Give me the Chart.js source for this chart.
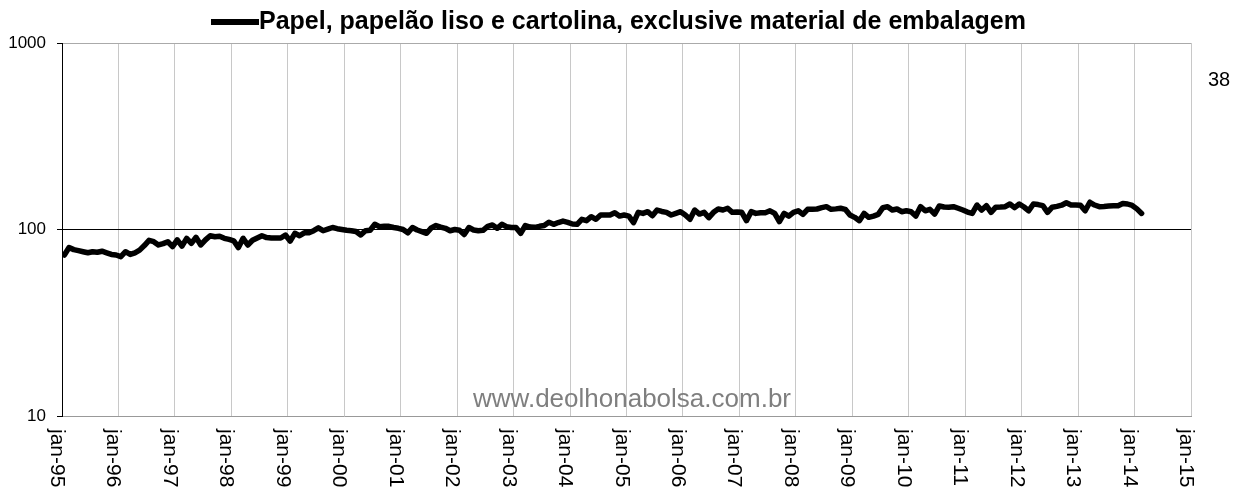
<!DOCTYPE html>
<html><head><meta charset="utf-8">
<script src="https://cdn.jsdelivr.net/npm/chart.js@4.4.1/dist/chart.umd.min.js"></script>
<style>html,body{margin:0;padding:0;background:#fff;}#wrap{width:1236px;height:495px;}</style>
</head><body><div id="wrap"><canvas id="c" width="1236" height="495"></canvas></div>
<script>
const seriesName = 'Papel, papelão liso e cartolina, exclusive material de embalagem';
const sideNote = '38';
const watermark = 'www.deolhonabolsa.com.br';
const yTicks = [10, 100, 1000];
const xTickLabels = ['jan-95','jan-96','jan-97','jan-98','jan-99','jan-00','jan-01','jan-02','jan-03','jan-04',
  'jan-05','jan-06','jan-07','jan-08','jan-09','jan-10','jan-11','jan-12','jan-13','jan-14','jan-15'];
// monthly values, jan-95 .. feb-14
const v1995 = [73, 80, 78, 77, 76, 75, 76, 75.5, 76.5, 75, 73.5, 73];
const v1996 = [71.5, 76, 73.5, 75, 77.5, 82, 87.5, 86, 82.6, 84, 86, 81];
const v1997 = [88, 81.5, 89.7, 84.3, 90.8, 82.6, 88, 92.6, 91.5, 92, 89.7, 88.5];
const v1998 = [87, 80, 89.7, 82.6, 87.5, 90, 92.6, 90.5, 90, 90, 90, 93.4];
const v1999 = [86.7, 95.4, 92.6, 96, 96, 98.5, 102, 98.5, 100.5, 102.5, 101, 100];
const v2000 = [99, 98.5, 97.5, 93.4, 98.5, 99, 106.6, 103.5, 104, 104, 102.5, 101.5];
const v2001 = [100, 96, 102.5, 99.4, 97.5, 95.4, 102, 105, 103, 101.5, 98.5, 100];
const v2002 = [99, 94, 102.5, 99.4, 98.5, 99, 104, 105.7, 101.5, 106.6, 103.5, 102.5];
const v2003 = [102.5, 95.4, 105, 103, 102.7, 104, 105, 109.3, 106.6, 109, 111, 109.3];
const v2004 = [107, 106.6, 113.4, 111.5, 117.1, 113.4, 119.6, 119.6, 119.6, 123, 118, 119.6];
const v2005 = [118, 108.8, 123.6, 122, 124.6, 118.5, 127.2, 125, 123.6, 119.6, 122, 124.6];
const v2006 = [119.6, 113.4, 127.2, 121, 123.6, 115.7, 123.6, 128.8, 127.2, 130, 123.6, 124];
const v2007 = [123.6, 111.5, 124.6, 122, 123, 123, 126, 122, 110.2, 122, 118, 123.6];
const v2008 = [126, 120.6, 128.3, 128.5, 128.8, 131, 132.6, 128.3, 129, 130, 128.3, 119.6];
const v2009 = [116.2, 111.5, 122, 116.2, 118, 120.6, 130.9, 132.6, 127.2, 128.8, 124.6, 126];
const v2010 = [124.6, 118, 132.6, 126, 128.3, 121, 133.7, 132, 131.7, 132.6, 130, 127.2];
const v2011 = [124, 122, 135.3, 127.2, 134.2, 123.6, 131.7, 132, 132.6, 137, 131, 137];
const v2012 = [132, 126, 137, 136, 134.2, 123.6, 131.7, 133, 135, 139.2, 135.3, 135.3];
const v2013 = [135, 126, 140, 135.3, 132.6, 133, 133.7, 134, 134.2, 138, 137, 134.5];
const v2014 = [129, 122];
const values = [].concat(v1995, v1996, v1997, v1998, v1999, v2000, v2001, v2002, v2003, v2004,
  v2005, v2006, v2007, v2008, v2009, v2010, v2011, v2012, v2013, v2014);

const FONT = '"Liberation Sans", Arial, sans-serif';

const textPlugin = {
  id: 'texts',
  afterDraw(chart) {
    const ctx = chart.ctx;
    const xs = chart.scales.x;
    const area = chart.chartArea;
    ctx.save();
    // legend / title
    ctx.strokeStyle = '#000';
    ctx.lineWidth = 6;
    ctx.lineCap = 'butt';
    ctx.beginPath(); ctx.moveTo(211, 22); ctx.lineTo(259, 22); ctx.stroke();
    ctx.fillStyle = '#000';
    ctx.font = 'bold 25px ' + FONT;
    ctx.textAlign = 'left'; ctx.textBaseline = 'alphabetic';
    ctx.fillText(seriesName, 259, 29);
    // side note
    ctx.font = '20px ' + FONT;
    ctx.fillText(sideNote, 1208, 86);
    // x labels rotated clockwise
    ctx.font = '21px ' + FONT;
    xTickLabels.forEach((lab, k) => {
      const px = xs.getPixelForValue(k * 12);
      ctx.save();
      ctx.translate(px - 11, area.bottom + 13);
      ctx.rotate(Math.PI / 2);
      ctx.textAlign = 'left'; ctx.textBaseline = 'alphabetic';
      ctx.fillText(lab, 0, 0);
      ctx.restore();
    });
    // watermark
    ctx.fillStyle = '#7f7f7f';
    ctx.font = '26px ' + FONT;
    ctx.textAlign = 'right'; ctx.textBaseline = 'alphabetic';
    ctx.fillText(watermark, 791, 407);
    ctx.restore();
  }
};

new Chart(document.getElementById('c'), {
  type: 'line',
  data: {
    datasets: [{
      data: values.map((v, i) => ({ x: i + 0.5, y: v })),
      borderColor: '#000', borderWidth: 5.5, pointRadius: 0, tension: 0,
      borderJoinStyle: 'round', borderCapStyle: 'round', fill: false
    }]
  },
  options: {
    responsive: false, animation: false, devicePixelRatio: 1,
    layout: { padding: { top: 43, right: 45, left: 0, bottom: 0 } },
    plugins: { legend: { display: false }, tooltip: { enabled: false } },
    scales: {
      x: {
        type: 'linear', min: 0, max: 240,
        afterBuildTicks: s => { s.ticks = xTickLabels.map((_, k) => ({ value: k * 12 })); },
        afterFit: s => { s.height = 79; },
        ticks: { display: false },
        grid: { color: '#c8c8c8', lineWidth: 1, drawTicks: false },
        border: { color: '#999', width: 1 }
      },
      y: {
        type: 'logarithmic', min: 10, max: 1000,
        afterBuildTicks: s => { s.ticks = yTicks.map(v => ({ value: v })); },
        afterFit: s => { s.width = 62; },
        ticks: { font: { family: FONT, size: 17 }, color: '#000', padding: 11,
          callback: v => yTicks.includes(v) ? String(v) : '' },
        grid: {
          color: c => c.tick && c.tick.value === 100 ? '#000' : (c.tick && c.tick.value === 1000 ? '#aaa' : 'rgba(0,0,0,0)'),
          tickColor: '#000', tickLength: 5, lineWidth: 1
        },
        border: { color: '#000', width: 1 }
      }
    }
  },
  plugins: [textPlugin]
});
</script></body></html>
